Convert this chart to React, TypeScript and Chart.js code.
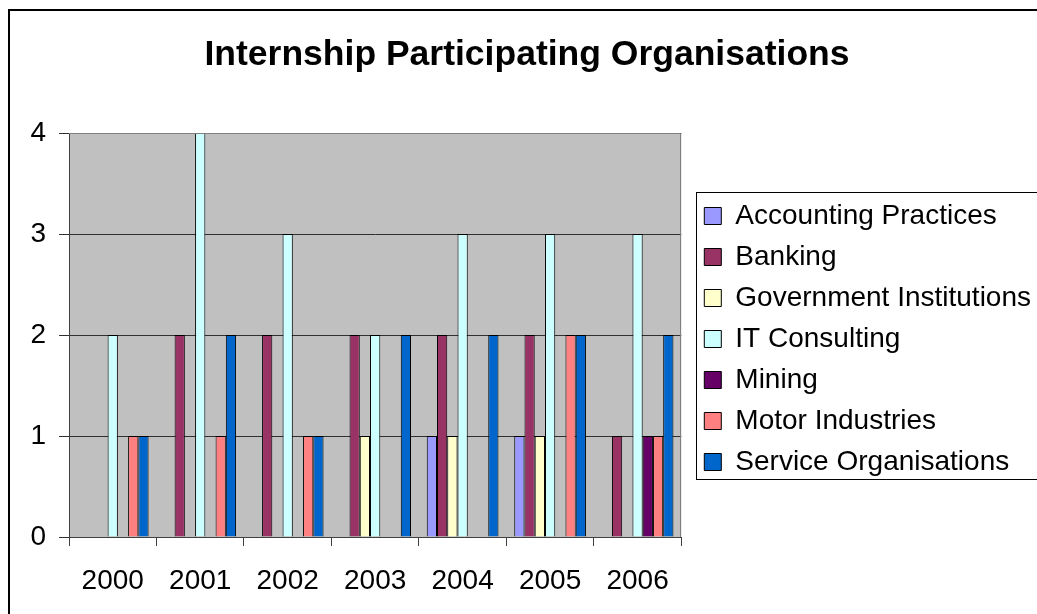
import React, { useEffect, useRef } from "react";
import { Chart, registerables } from "chart.js";

Chart.register(...registerables);

const years = ["2000", "2001", "2002", "2003", "2004", "2005", "2006"];
const accountingPractices = [0, 0, 0, 0, 1, 1, 0];
const banking = [0, 2, 2, 2, 2, 2, 1];
const governmentInstitutions = [0, 0, 0, 1, 1, 1, 0];
const itConsulting = [2, 4, 3, 2, 3, 3, 3];
const mining = [0, 0, 0, 0, 0, 0, 1];
const motorIndustries = [1, 1, 1, 0, 0, 2, 1];
const serviceOrganisations = [1, 2, 1, 2, 2, 2, 2];
const yTicks = [0, 1, 2, 3, 4];

const seriesNames = [
  "Accounting Practices",
  "Banking",
  "Government Institutions",
  "IT Consulting",
  "Mining",
  "Motor Industries",
  "Service Organisations",
];
const seriesValues = [
  accountingPractices,
  banking,
  governmentInstitutions,
  itConsulting,
  mining,
  motorIndustries,
  serviceOrganisations,
];
const seriesColors = ["#9999FF", "#993366", "#FFFFCC", "#CCFFFF", "#660066", "#FF8080", "#0066CC"];

const FONT = '"Liberation Sans", Arial, sans-serif';

const framePlugin = {
  id: "frame",
  beforeDraw(chart: any) {
    const { ctx, chartArea: a } = chart;
    ctx.save();
    ctx.fillStyle = "#C0C0C0";
    ctx.fillRect(a.left, a.top, a.right - a.left, a.bottom - a.top);
    ctx.restore();
  },
  afterDraw(chart: any) {
    const { ctx, chartArea: a } = chart;
    ctx.save();
    // outer chart border
    ctx.strokeStyle = "#000";
    ctx.lineWidth = 2;
    ctx.strokeRect(9, 10, 3000, 3000);
    // plot area border (top / right)
    ctx.strokeStyle = "#808080";
    ctx.lineWidth = 1;
    ctx.beginPath();
    ctx.moveTo(a.left, Math.round(a.top) + 0.5);
    ctx.lineTo(Math.round(a.right) - 0.5, Math.round(a.top) + 0.5);
    ctx.lineTo(Math.round(a.right) - 0.5, a.bottom);
    ctx.stroke();
    // legend border
    const hb = chart.legend && chart.legend.legendHitBoxes;
    if (hb && hb.length) {
      const first = hb[0];
      const last = hb[hb.length - 1];
      const left = Math.round(first.left) - 8 + 0.5;
      const top = Math.round(first.top) - 10 + 0.5;
      const bottom = Math.round(last.top + last.height) + 3 + 0.5;
      ctx.strokeStyle = "#000";
      ctx.lineWidth = 1;
      ctx.strokeRect(left, top, 2000, bottom - top);
    }
    ctx.restore();
  },
};

export default function App() {
  const canvasRef = useRef<HTMLCanvasElement | null>(null);

  useEffect(() => {
    if (!canvasRef.current) return;
    Chart.defaults.font.family = FONT;
    const chart = new Chart(canvasRef.current, {
      type: "bar",
      data: {
        labels: years,
        datasets: seriesNames.map((name, i) => ({
          label: name,
          data: seriesValues[i],
          backgroundColor: seriesColors[i],
          borderColor: "#000000",
          borderWidth: 1,
          categoryPercentage: 0.82,
          barPercentage: 1.0,
        })),
      },
      options: {
        responsive: false,
        animation: false,
        devicePixelRatio: 1,
        layout: { padding: { left: 13, right: -4, top: 0, bottom: 0 } },
        plugins: {
          tooltip: { enabled: false },
          title: {
            display: true,
            text: "Internship Participating Organisations",
            color: "#000",
            font: { size: 35.5, weight: "bold", family: FONT, lineHeight: 1.2 },
            padding: { top: 34.2, bottom: 56.2 },
          },
          legend: {
            display: true,
            position: "right",
            align: "start",
            fullSize: false,
            maxWidth: 600,
            title: {
              display: true,
              text: "",
              font: { size: 28, family: FONT, lineHeight: 1.2 },
              padding: { top: 0, bottom: 22.4 },
            },
            labels: {
              boxWidth: 17,
              boxHeight: 17,
              padding: 13,
              color: "#000",
              font: { size: 28, family: FONT },
            },
          },
        },
        scales: {
          x: {
            grid: {
              display: true,
              drawOnChartArea: false,
              drawTicks: true,
              tickLength: 9,
              color: "#404040",
              offset: true,
            },
            border: { display: true, color: "#404040", width: 1 },
            ticks: {
              color: "#000",
              font: { size: 28, family: FONT },
              padding: 18,
              maxRotation: 0,
              autoSkip: false,
            },
            afterFit: (s: any) => {
              s.height = 77;
            },
          },
          y: {
            min: 0,
            max: 4,
            grid: {
              display: true,
              drawOnChartArea: true,
              drawTicks: true,
              tickLength: 10,
              color: "#303030",
            },
            border: { display: true, color: "#404040", width: 1 },
            ticks: {
              stepSize: 1,
              color: "#000",
              font: { size: 28, family: FONT },
              padding: 13,
            },
            afterBuildTicks: (s: any) => {
              s.ticks = yTicks.map((v) => ({ value: v }));
            },
            afterFit: (s: any) => {
              s.width = 56;
            },
          },
          yRight: {
            position: "right",
            display: true,
            grid: { display: false, drawTicks: false },
            border: { display: false },
            ticks: { display: false },
            afterFit: (s: any) => {
              s.width = 10;
            },
          },
        },
      } as any,
      plugins: [framePlugin],
    });
    return () => chart.destroy();
  }, []);

  return (
    <div style={{ position: "absolute", left: 0, top: 0, width: 1037, height: 614 }}>
      <canvas ref={canvasRef} width={1037} height={614} style={{ display: "block" }} />
    </div>
  );
}
